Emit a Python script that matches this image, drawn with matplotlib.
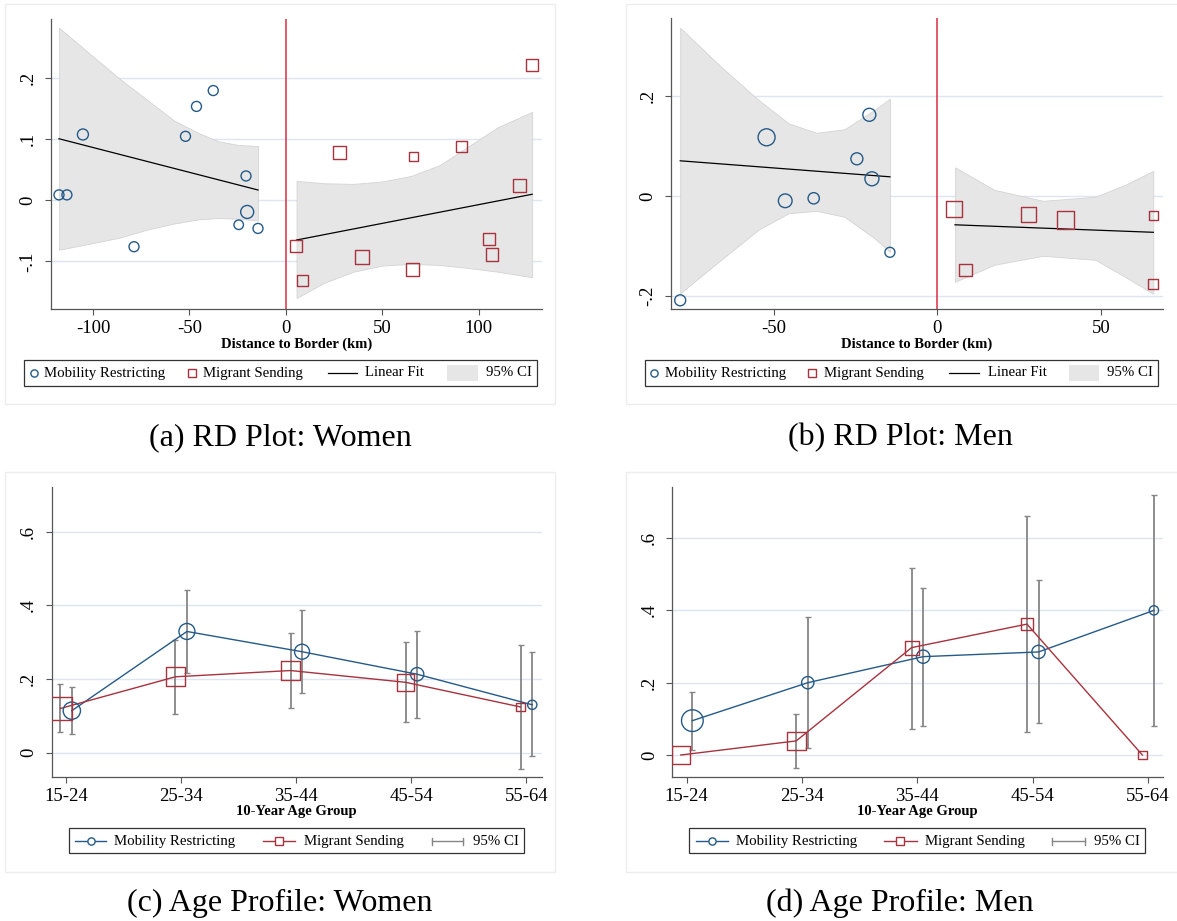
import matplotlib.pyplot as plt
import numpy as np
from matplotlib.lines import Line2D
from matplotlib.patches import Rectangle
from matplotlib.ticker import FuncFormatter

plt.rcParams["font.family"] = ["Liberation Serif", "DejaVu Serif"]

FIG_W, FIG_H = 1177, 921

BLUE = "#255a88"
RED = "#a8323d"
CUTOFF = "#d92e40"
BAND = "#e6e6e6"
BAND_EDGE = "#d4d4d4"
GRID = "#dce5f0"
CI_GREY = "#868686"
AXIS = "#555555"
FRAME = "#ededed"

# marker area (pt^2) for a bin of unit weight
BASE_AREA = 51.8

# ---------------------------------------------------------------- data
# (a) RD plot, women: binned means by distance to the border
w_mob_dist = [-117.6, -113.5, -105.2, -78.7, -52.0, -46.3, -37.6, -20.6, -20.0, -24.4, -14.4]
w_mob_val = [0.009, 0.009, 0.108, -0.076, 0.105, 0.154, 0.180, 0.040, -0.019, -0.040, -0.046]
w_mob_wt = [1.0, 1.0, 1.21, 1.0, 1.0, 1.0, 1.0, 1.0, 1.69, 0.9, 1.0]
w_mig_dist = [5.2, 8.5, 28.0, 39.3, 66.1, 65.7, 91.3, 105.6, 107.0, 121.1, 127.8]
w_mig_val = [-0.075, -0.132, 0.079, -0.093, 0.072, -0.113, 0.088, -0.063, -0.089, 0.024, 0.222]
w_mig_wt = [1.51, 1.21, 1.69, 1.96, 0.81, 1.61, 1.30, 1.39, 1.56, 1.66, 1.44]

w_fit_left_x = [-117.6, -14.4]
w_fit_left_y = [0.101, 0.017]
w_fit_right_x = [5.6, 127.8]
w_fit_right_y = [-0.065, 0.010]

w_ci_left_x = [-117.6, -100, -86, -72, -58, -45, -35, -25, -14.4]
w_ci_left_lo = [-0.081, -0.070, -0.061, -0.048, -0.038, -0.031, -0.029, -0.030, -0.033]
w_ci_left_hi = [0.283, 0.236, 0.199, 0.165, 0.131, 0.110, 0.097, 0.091, 0.089]
w_ci_right_x = [5.6, 20, 35, 50, 65, 80, 95, 110, 127.8]
w_ci_right_lo = [-0.160, -0.135, -0.117, -0.107, -0.104, -0.106, -0.111, -0.117, -0.126]
w_ci_right_hi = [0.032, 0.028, 0.027, 0.031, 0.040, 0.058, 0.089, 0.120, 0.145]

# (b) RD plot, men
m_mob_dist = [-78.6, -52.2, -46.5, -37.8, -24.6, -20.8, -20.0, -14.5]
m_mob_val = [-0.208, 0.118, -0.009, -0.004, 0.075, 0.163, 0.035, -0.112]
m_mob_wt = [1.21, 2.89, 1.88, 1.28, 1.44, 1.69, 1.96, 1.0]
m_mig_dist = [5.1, 8.6, 27.9, 39.2, 66.0, 65.8]
m_mig_val = [-0.025, -0.148, -0.037, -0.047, -0.039, -0.175]
m_mig_wt = [2.56, 1.51, 2.25, 3.13, 0.86, 1.0]

m_fit_left_x = [-78.6, -14.5]
m_fit_left_y = [0.071, 0.039]
m_fit_right_x = [5.4, 66.0]
m_fit_right_y = [-0.057, -0.072]

m_ci_left_x = [-78.6, -66.1, -54.7, -45.5, -37.0, -28.4, -19.2, -14.5]
m_ci_left_lo = [-0.194, -0.127, -0.067, -0.034, -0.029, -0.041, -0.084, -0.111]
m_ci_left_hi = [0.337, 0.259, 0.193, 0.146, 0.127, 0.134, 0.173, 0.195]
m_ci_right_x = [5.4, 17.4, 32.3, 48.3, 57.4, 66.0]
m_ci_right_lo = [-0.171, -0.137, -0.119, -0.127, -0.161, -0.195]
m_ci_right_hi = [0.058, 0.013, -0.009, -0.001, 0.023, 0.051]

# (c)/(d) age profiles
age_groups = ["15-24", "25-34", "35-44", "45-54", "55-64"]

w_age_mob = [0.114, 0.329, 0.274, 0.213, 0.130]
w_age_mob_lo = [0.051, 0.215, 0.163, 0.095, -0.009]
w_age_mob_hi = [0.179, 0.442, 0.386, 0.331, 0.272]
w_age_mob_wt = [2.99, 2.56, 2.25, 1.77, 0.86]
w_age_mig = [0.120, 0.206, 0.223, 0.191, 0.124]
w_age_mig_lo = [0.057, 0.105, 0.120, 0.084, -0.043]
w_age_mig_hi = [0.186, 0.306, 0.326, 0.301, 0.293]
w_age_mig_wt = [5.43, 3.50, 3.50, 2.99, 0.81]

m_age_mob = [0.095, 0.200, 0.272, 0.285, 0.400]
m_age_mob_lo = [0.014, 0.020, 0.081, 0.088, 0.080]
m_age_mob_hi = [0.174, 0.381, 0.463, 0.484, 0.720]
m_age_mob_wt = [4.71, 1.51, 1.77, 1.77, 0.86]
m_age_mig = [0.000, 0.039, 0.297, 0.362, 0.000]
m_age_mig_lo = [np.nan, -0.037, 0.071, 0.065, np.nan]
m_age_mig_hi = [np.nan, 0.113, 0.516, 0.661, np.nan]
m_age_mig_wt = [3.24, 3.50, 1.96, 1.28, 0.76]


# ---------------------------------------------------------------- helpers
def fx(x):
    return x / FIG_W


def fy(y):
    return 1 - y / FIG_H


def stata_num(v, pos=None):
    s = f"{v:g}"
    if s.startswith("0."):
        s = s[1:]
    elif s.startswith("-0."):
        s = "-" + s[2:]
    return s


fig = plt.figure(figsize=(FIG_W / 100, FIG_H / 100), dpi=100)


def add_axes(left, top, right, bottom):
    return fig.add_axes([fx(left), fy(bottom), (right - left) / FIG_W, (bottom - top) / FIG_H])


def style_axes(ax, xlim, ylim, yticks):
    ax.set_xlim(*xlim)
    ax.set_ylim(*ylim)
    for side in ("top", "right"):
        ax.spines[side].set_visible(False)
    for side in ("left", "bottom"):
        ax.spines[side].set_color(AXIS)
        ax.spines[side].set_linewidth(0.9)
    ax.set_yticks(yticks)
    ax.yaxis.set_major_formatter(FuncFormatter(stata_num))
    ax.tick_params(axis="both", direction="out", length=4.5, width=0.8,
                   color=AXIS, labelsize=13.5)
    ax.tick_params(axis="x", pad=3.5)
    ax.tick_params(axis="y", pad=6, labelrotation=90)
    plt.setp(ax.get_yticklabels(), va="center")
    ax.grid(axis="y", color=GRID, lw=1.0)
    ax.set_axisbelow(True)
    ax.patch.set_alpha(0)


def frame(left, top, right, bottom):
    fig.add_artist(Rectangle((fx(left), fy(bottom)), (right - left) / FIG_W, (bottom - top) / FIG_H,
                             transform=fig.transFigure, fill=False, ec=FRAME, lw=1.0))


def legend_box(left, top, right, bottom):
    fig.add_artist(Rectangle((fx(left), fy(bottom)), (right - left) / FIG_W, (bottom - top) / FIG_H,
                             transform=fig.transFigure, fill=False, ec="#333333", lw=0.9))


def legend_text(x, y, s):
    fig.text(fx(x), fy(y), s, fontsize=10.7, ha="left", va="center")


def fig_line(xs, ys, **kw):
    fig.add_artist(Line2D([fx(v) for v in xs], [fy(v) for v in ys], transform=fig.transFigure, **kw))


def rd_panel(ax, mob, mig, fits, bands, xlim, ylim, xticks, yticks):
    style_axes(ax, xlim, ylim, yticks)
    ax.set_xticks(xticks)
    ax.xaxis.set_major_formatter(FuncFormatter(lambda v, p: f"{v:g}"))
    for bx, blo, bhi in bands:
        ax.fill_between(bx, blo, bhi, color=BAND, ec=BAND_EDGE, lw=0.6, zorder=1)
    ax.axvline(0, color=CUTOFF, lw=1.1, zorder=2)
    for fxs, fys in fits:
        ax.plot(fxs, fys, color="black", lw=0.9, zorder=2)
    ax.scatter(mob[0], mob[1], s=np.array(mob[2]) * BASE_AREA, marker="o",
               facecolors="none", edgecolors=BLUE, linewidths=1.0, zorder=3)
    ax.scatter(mig[0], mig[1], s=np.array(mig[2]) * BASE_AREA, marker="s",
               facecolors="none", edgecolors=RED, linewidths=1.0, zorder=3)


def age_panel(ax, mob, mob_lo, mob_hi, mob_wt, mig, mig_lo, mig_hi, mig_wt, xlim, ylim):
    style_axes(ax, xlim, ylim, [0, 0.2, 0.4, 0.6])
    pos = np.arange(len(age_groups))
    ax.set_xticks(pos, age_groups)
    mob, mig = np.array(mob), np.array(mig)
    for shift, vals, lo, hi in ((-0.05, mig, mig_lo, mig_hi), (0.05, mob, mob_lo, mob_hi)):
        lo, hi = np.array(lo), np.array(hi)
        ok = ~np.isnan(lo)
        ax.errorbar(pos[ok] + shift, vals[ok], yerr=[vals[ok] - lo[ok], hi[ok] - vals[ok]],
                    fmt="none", ecolor=CI_GREY, elinewidth=1.3, capsize=2.4, capthick=1.0, zorder=2)
    ax.plot(pos + 0.05, mob, color=BLUE, lw=1.0, zorder=3)
    ax.plot(pos - 0.05, mig, color=RED, lw=1.0, zorder=3)
    ax.scatter(pos + 0.05, mob, s=np.array(mob_wt) * BASE_AREA, marker="o",
               facecolors="none", edgecolors=BLUE, linewidths=1.0, zorder=4)
    ax.scatter(pos - 0.05, mig, s=np.array(mig_wt) * BASE_AREA, marker="s",
               facecolors="none", edgecolors=RED, linewidths=1.0, zorder=4)


# ---------------------------------------------------------------- panel frames
frame(5.4, 4, 555, 404)
frame(626, 4, 1190, 404)
frame(5.4, 472, 555, 872)
frame(626, 472, 1190, 872)

# ---------------------------------------------------------------- (a) women RD
ax_a = add_axes(51.1, 19, 541.8, 308.7)
rd_panel(ax_a,
         (w_mob_dist, w_mob_val, w_mob_wt), (w_mig_dist, w_mig_val, w_mig_wt),
         [(w_fit_left_x, w_fit_left_y), (w_fit_right_x, w_fit_right_y)],
         [(w_ci_left_x, w_ci_left_lo, w_ci_left_hi), (w_ci_right_x, w_ci_right_lo, w_ci_right_hi)],
         (-121.7, 132.8), (-0.1776, 0.2973), [-100, -50, 0, 50, 100], [-0.1, 0, 0.1, 0.2])

# ---------------------------------------------------------------- (b) men RD
ax_b = add_axes(671.2, 18.3, 1162.8, 309.3)
rd_panel(ax_b,
         (m_mob_dist, m_mob_val, m_mob_wt), (m_mig_dist, m_mig_val, m_mig_wt),
         [(m_fit_left_x, m_fit_left_y), (m_fit_right_x, m_fit_right_y)],
         [(m_ci_left_x, m_ci_left_lo, m_ci_left_hi), (m_ci_right_x, m_ci_right_lo, m_ci_right_hi)],
         (-81.35, 68.9), (-0.226, 0.356), [-50, 0, 50], [-0.2, 0, 0.2])

# ---------------------------------------------------------------- (c) women ages
ax_c = add_axes(51.8, 486.7, 541.8, 776.7)
age_panel(ax_c, w_age_mob, w_age_mob_lo, w_age_mob_hi, w_age_mob_wt,
          w_age_mig, w_age_mig_lo, w_age_mig_hi, w_age_mig_wt,
          (-0.124, 4.133), (-0.0652, 0.722))

# ---------------------------------------------------------------- (d) men ages
ax_d = add_axes(672.4, 486.7, 1162.8, 776.7)
age_panel(ax_d, m_age_mob, m_age_mob_lo, m_age_mob_hi, m_age_mob_wt,
          m_age_mig, m_age_mig_lo, m_age_mig_hi, m_age_mig_wt,
          (-0.123, 4.127), (-0.060, 0.742))

# ---------------------------------------------------------------- axis titles
for cx in (296.5, 917.0):
    fig.text(fx(cx), fy(344), "Distance to Border (km)", fontsize=10.5,
             fontweight="bold", ha="center", va="center")
for cx in (296.8, 917.6):
    fig.text(fx(cx), fy(812), "10-Year Age Group", fontsize=10.5,
             fontweight="bold", ha="center", va="center")

# ---------------------------------------------------------------- legends, RD panels
for box, circ, t1, sq, t2, ln, t3, patch, t4 in (
        ((23.9, 536.8), 33.9, 43.6, 192.1, 202.9, (327.9, 357.1), 365.0, (447.1, 477.9), 485.7),
        ((645.4, 1157.9), 653.6, 664.9, 812.0, 824.0, (949.4, 979.4), 988.0, (1068.5, 1099.2), 1106.7)):
    yc = 373.0
    legend_box(box[0], 360.3, box[1], 385.7)
    fig_line([circ], [yc], marker="o", ms=5.2, mfc="none", mec=BLUE, mew=1.0, ls="none")
    legend_text(t1, yc, "Mobility Restricting")
    fig_line([sq], [yc], marker="s", ms=5.2, mfc="none", mec=RED, mew=1.0, ls="none")
    legend_text(t2, yc, "Migrant Sending")
    fig_line(ln, [yc, yc], color="black", lw=0.9)
    legend_text(t3, yc, "Linear Fit")
    fig.add_artist(Rectangle((fx(patch[0]), fy(yc + 8)), (patch[1] - patch[0]) / FIG_W, 16 / FIG_H,
                             transform=fig.transFigure, color=BAND, lw=0))
    legend_text(t4, yc, "95% CI")

# ---------------------------------------------------------------- legends, age panels
for box, s1, t1, s2, t2, s3, t3 in (
        ((68.6, 523.9), (75.0, 106.4), 114.3, (263.2, 294.6), 303.6, (432.1, 462.5), 473.2),
        ((689.2, 1145.2), (696.0, 727.8), 736.0, (883.9, 916.5), 925.1, (1052.4, 1085.3), 1093.6)):
    yc = 841.0
    legend_box(box[0], 828.3, box[1], 853.3)
    fig_line(s1, [yc, yc], color=BLUE, lw=1.0)
    fig_line([sum(s1) / 2], [yc], marker="o", ms=5.2, mfc="white", mec=BLUE, mew=1.0, ls="none")
    legend_text(t1, yc, "Mobility Restricting")
    fig_line(s2, [yc, yc], color=RED, lw=1.0)
    fig_line([sum(s2) / 2], [yc], marker="s", ms=5.2, mfc="white", mec=RED, mew=1.0, ls="none")
    legend_text(t2, yc, "Migrant Sending")
    fig_line(s3, [yc, yc], color=CI_GREY, lw=1.0)
    for end in s3:
        fig_line([end, end], [yc - 3.5, yc + 3.5], color=CI_GREY, lw=1.0)
    legend_text(t3, yc, "95% CI")

# ---------------------------------------------------------------- captions
fig.text(fx(280), fy(438), "(a) RD Plot: Women", fontsize=23, ha="center", va="center")
fig.text(fx(900), fy(438), "(b) RD Plot: Men", fontsize=23, ha="center", va="center")
fig.text(fx(280), fy(903), "(c) Age Profile: Women", fontsize=23, ha="center", va="center")
fig.text(fx(900), fy(903), "(d) Age Profile: Men", fontsize=23, ha="center", va="center")

fig.savefig("out.png", dpi=100)
